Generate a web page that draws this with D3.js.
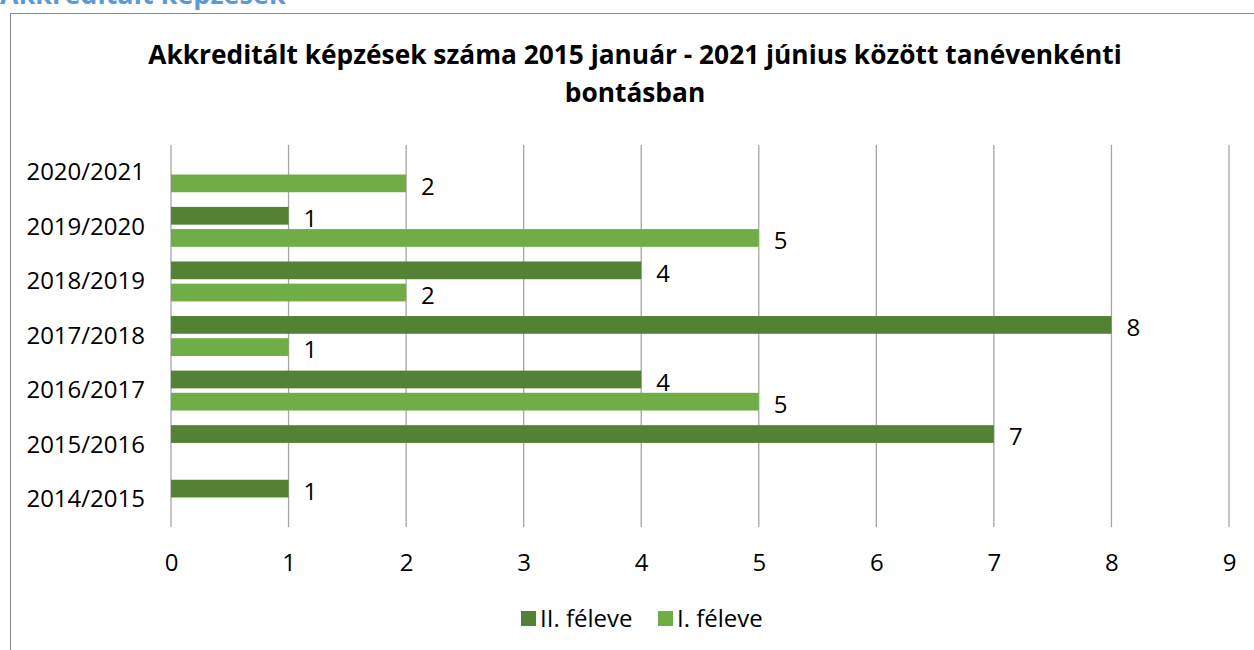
<!DOCTYPE html>
<html lang="hu">
<head>
    <meta charset="UTF-8">
    <title>Akkreditált képzések</title>
    <script src="https://d3js.org/d3.v7.min.js"></script>
    <style>
        body { margin: 0; background: #fff; font-family: "Open Sans", sans-serif; }
        svg text { fill: #000; }
    </style>
</head>
<body>
<svg width="1254" height="650"></svg>
<script>
    const years = ["2020/2021", "2019/2020", "2018/2019", "2017/2018", "2016/2017", "2015/2016", "2014/2015"];
    const seriesNames = ["II. féleve", "I. féleve"];
    const secondTerm = [0, 1, 4, 8, 4, 7, 1];   // II. féleve
    const firstTerm = [2, 5, 2, 1, 5, 0, 0];    // I. féleve
    const xTicks = [0, 1, 2, 3, 4, 5, 6, 7, 8, 9];
    const titleLines = ["Akkreditált képzések száma 2015 január - 2021 június között tanévenkénti", "bontásban"];
    const colors = { "II. féleve": "#548235", "I. féleve": "#70ad47" };

    const svg = d3.select("svg");

    // section heading, cut off at the top like in the document
    svg.append("text")
        .attr("x", 0).attr("y", 4)
        .style("font-size", "27px").style("font-weight", "bold")
        .style("fill", "#5b9bd5")
        .text("Akkreditált képzések");

    // chart frame (runs off the right and bottom)
    svg.append("rect")
        .attr("x", 10.5).attr("y", 13.5)
        .attr("width", 1300).attr("height", 700)
        .attr("fill", "none").attr("stroke", "#888");

    svg.selectAll(".title").data(titleLines).enter().append("text")
        .attr("class", "title")
        .attr("x", 635).attr("y", (d, i) => 64 + i * 38)
        .attr("text-anchor", "middle")
        .style("font-size", "26.3px").style("font-weight", "bold")
        .text(d => d);

    const x = d3.scaleLinear().domain([0, 9]).range([171, 1229]);
    const y = d3.scaleBand().domain(years).range([145, 527]);
    const ySub = d3.scaleBand().domain(seriesNames).range([0, y.bandwidth()])
        .paddingInner(0.2).paddingOuter(0.33);

    // vertical gridlines
    svg.append("g").selectAll("line").data(xTicks).enter().append("line")
        .attr("x1", d => x(d)).attr("x2", d => x(d))
        .attr("y1", 145).attr("y2", 527)
        .attr("stroke", "#a6a6a6").attr("stroke-width", 1.3);

    const xAxis = svg.append("g").attr("transform", "translate(0,527)")
        .call(d3.axisBottom(x).tickValues(xTicks).tickSize(0).tickPadding(27));
    xAxis.select(".domain").remove();
    xAxis.selectAll("text").style("font-size", "24px").style("font-family", "Open Sans").attr("fill", "#000");

    const yAxis = svg.append("g").attr("transform", "translate(171,0)")
        .call(d3.axisLeft(y).tickSize(0).tickPadding(26));
    yAxis.select(".domain").remove();
    yAxis.selectAll("text").style("font-size", "24px").style("font-family", "Open Sans").attr("fill", "#000");

    const rows = [];
    years.forEach((yr, i) => {
        rows.push({ year: yr, series: "II. féleve", value: secondTerm[i] });
        rows.push({ year: yr, series: "I. féleve", value: firstTerm[i] });
    });
    const shown = rows.filter(d => d.value > 0);

    svg.append("g").selectAll("rect").data(shown).enter().append("rect")
        .attr("x", x(0))
        .attr("y", d => y(d.year) + ySub(d.series))
        .attr("width", d => x(d.value) - x(0))
        .attr("height", ySub.bandwidth())
        .attr("fill", d => colors[d.series]);

    svg.append("g").selectAll("text").data(shown).enter().append("text")
        .attr("x", d => x(d.value) + 15)
        .attr("y", d => y(d.year) + ySub(d.series) + ySub.bandwidth() / 2 + 3)
        .attr("dy", "0.35em")
        .style("font-size", "24px")
        .text(d => d.value);

    // legend
    const legendX = [521, 658];
    const legend = svg.append("g").selectAll("g").data(seriesNames).enter().append("g")
        .attr("transform", (d, i) => `translate(${legendX[i]},611)`);
    legend.append("rect").attr("width", 15).attr("height", 15).attr("fill", d => colors[d]);
    legend.append("text").attr("x", 19).attr("y", 16)
        .style("font-size", "24px").text(d => d);
</script>
</body>
</html>
